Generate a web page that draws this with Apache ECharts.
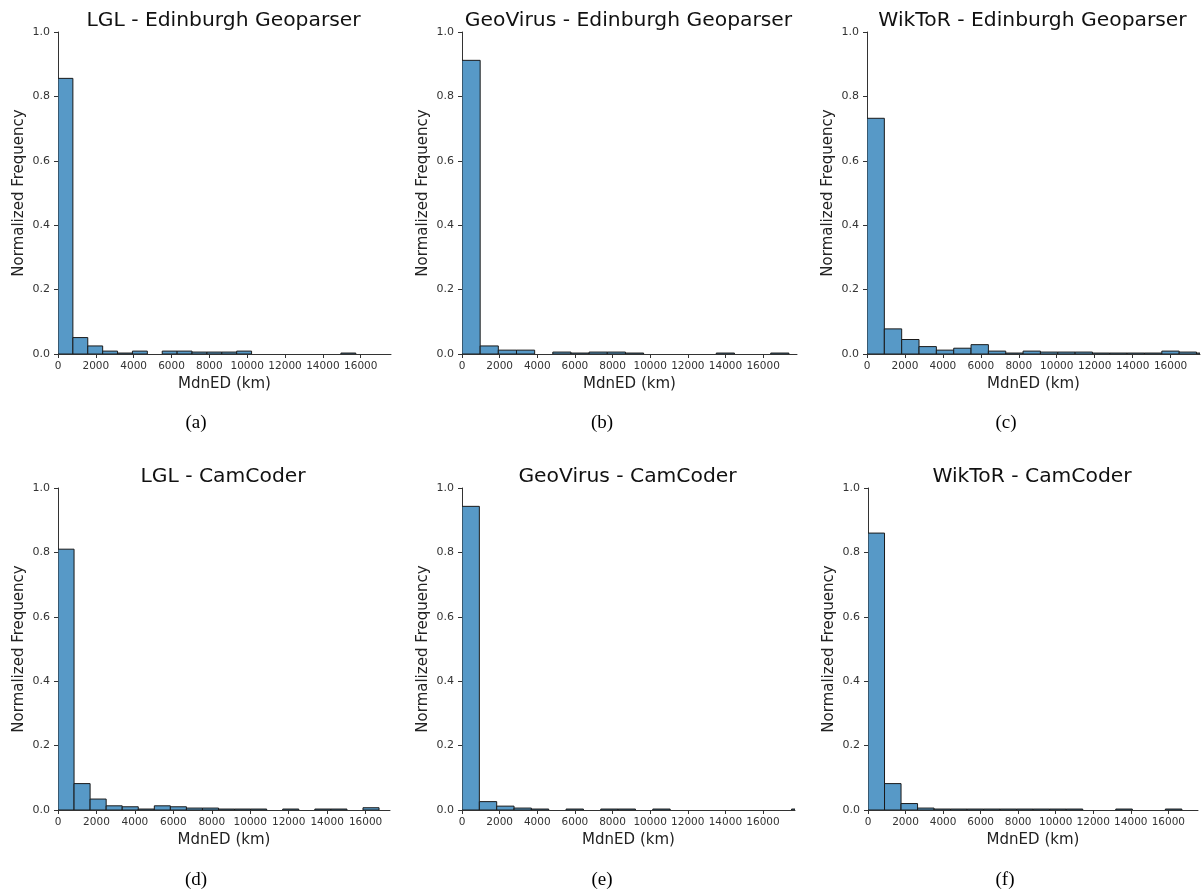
<!DOCTYPE html>
<html>
<head>
<meta charset="utf-8">
<script src="https://cdn.jsdelivr.net/npm/echarts@6/dist/echarts.min.js"></script>
<style>html,body{margin:0;padding:0;background:#fff}#c{width:1203px;height:891px}</style>
</head>
<body>
<div id="c"></div>
<script>
// ---- data ----
const titles = ["LGL - Edinburgh Geoparser", "GeoVirus - Edinburgh Geoparser", "WikToR - Edinburgh Geoparser",
                "LGL - CamCoder", "GeoVirus - CamCoder", "WikToR - CamCoder"];
const captions = ["(a)", "(b)", "(c)", "(d)", "(e)", "(f)"];
const xTickLabels = [0, 2000, 4000, 6000, 8000, 10000, 12000, 14000, 16000];
const yTickLabels = [0.0, 0.2, 0.4, 0.6, 0.8, 1.0];
const xAxisTitle = "MdnED (km)";
const yAxisTitle = "Normalized Frequency";

// bin width (km) and upper x-limit for each panel
const binWidths = [787, 965, 914, 835, 922, 880];
const xMaxes = [17600, 17800, 17550, 17270, 17700, 17580];

// normalized frequencies per bin
const lglEdinburgh = [0.856, 0.051, 0.025, 0.009, 0.003, 0.009, 0, 0.009, 0.009, 0.006, 0.006, 0.006, 0.009, 0, 0, 0, 0, 0, 0, 0.003, 0, 0];
const geovirusEdinburgh = [0.912, 0.025, 0.012, 0.012, 0, 0.006, 0.003, 0.006, 0.006, 0.003, 0, 0, 0, 0, 0.003, 0, 0, 0.003, 0];
const wiktorEdinburgh = [0.732, 0.078, 0.045, 0.023, 0.012, 0.018, 0.029, 0.009, 0.003, 0.009, 0.006, 0.006, 0.006, 0.003, 0.003, 0.003, 0.003, 0.009, 0.006, 0.003];
const lglCamCoder = [0.810, 0.082, 0.034, 0.013, 0.010, 0.003, 0.013, 0.010, 0.006, 0.006, 0.003, 0.003, 0.003, 0, 0.003, 0, 0.003, 0.003, 0, 0.007, 0];
const geovirusCamCoder = [0.943, 0.026, 0.012, 0.006, 0.003, 0, 0.003, 0, 0.003, 0.003, 0, 0.003, 0, 0, 0, 0, 0, 0, 0, 0.003];
const wiktorCamCoder = [0.860, 0.082, 0.020, 0.006, 0.003, 0.003, 0.003, 0.003, 0.003, 0.003, 0.003, 0.003, 0.003, 0, 0, 0.003, 0, 0, 0.003, 0];

const panelValues = [lglEdinburgh, geovirusEdinburgh, wiktorEdinburgh, lglCamCoder, geovirusCamCoder, wiktorCamCoder];

// ---- layout ----
const grids = [
  {left: 58, top: 32, width: 333, height: 322},
  {left: 462, top: 32, width: 335, height: 322},
  {left: 867, top: 32, width: 333, height: 322},
  {left: 58, top: 488, width: 332, height: 322},
  {left: 462, top: 488, width: 333, height: 322},
  {left: 868, top: 488, width: 330, height: 322}
];
const captionPos = [[191, 409], [597, 409], [1001, 409], [191, 866], [597, 866], [1000, 866]];

const axisColor = '#333';
const option = {
  animation: false,
  backgroundColor: '#fff',
  title: [],
  grid: [],
  xAxis: [],
  yAxis: [],
  series: []
};

grids.forEach((g, i) => {
  option.grid.push(Object.assign({containLabel: false}, g));
  option.title.push({
    text: titles[i],
    left: g.left + g.width / 2 - 6,
    top: g.top - 26,
    textAlign: 'center',
    textStyle: {fontFamily: 'DejaVu Sans', fontSize: 20.3, fontWeight: 'normal', color: '#111'}
  });
  option.title.push({
    text: captions[i],
    left: captionPos[i][0],
    top: captionPos[i][1],
    textAlign: 'center',
    textStyle: {fontFamily: 'Liberation Serif', fontSize: 19, fontWeight: 'normal', color: '#000'}
  });
  option.xAxis.push({
    type: 'value', gridIndex: i, min: 0, max: xMaxes[i],
    name: xAxisTitle, nameLocation: 'middle', nameGap: 23,
    nameTextStyle: {fontFamily: 'DejaVu Sans', fontSize: 15, color: '#222'},
    axisLine: {show: true, lineStyle: {color: axisColor, width: 1}},
    axisTick: {show: true, length: 4, customValues: xTickLabels, lineStyle: {color: axisColor}},
    axisLabel: {customValues: xTickLabels, fontFamily: 'DejaVu Sans', fontSize: 10.5, color: '#333', margin: 7,
                formatter: v => String(v)},
    splitLine: {show: false}
  });
  option.yAxis.push({
    type: 'value', gridIndex: i, min: 0, max: 1, interval: 0.2,
    name: yAxisTitle, nameLocation: 'middle', nameGap: 31,
    nameTextStyle: {fontFamily: 'DejaVu Sans', fontSize: 15, color: '#222'},
    axisLine: {show: true, lineStyle: {color: axisColor, width: 1}},
    axisTick: {show: true, length: 4, lineStyle: {color: axisColor}},
    axisLabel: {fontFamily: 'DejaVu Sans', fontSize: 11, color: '#333', margin: 8,
                formatter: v => v.toFixed(1)},
    splitLine: {show: false}
  });
  const bw = binWidths[i];
  const data = panelValues[i].map((h, k) => [k * bw, (k + 1) * bw, h]).filter(d => d[2] > 0);
  option.series.push({
    type: 'custom', xAxisIndex: i, yAxisIndex: i, clip: true,
    data: data,
    renderItem: (params, api) => {
      const p0 = api.coord([api.value(0), api.value(2)]);
      const p1 = api.coord([api.value(1), 0]);
      const rect = echarts.graphic.clipRectByRect({
        x: p0[0], y: p0[1], width: p1[0] - p0[0], height: p1[1] - p0[1]
      }, {
        x: params.coordSys.x, y: params.coordSys.y - 2,
        width: params.coordSys.width, height: params.coordSys.height + 2
      });
      if (!rect) return null;
      return {
        type: 'rect',
        shape: rect,
        style: {fill: '#5799c7', stroke: '#1a1a1a', lineWidth: 1}
      };
    }
  });
});

const chart = echarts.init(document.getElementById('c'), null, {renderer: 'canvas'});
chart.setOption(option);
</script>
</body>
</html>
